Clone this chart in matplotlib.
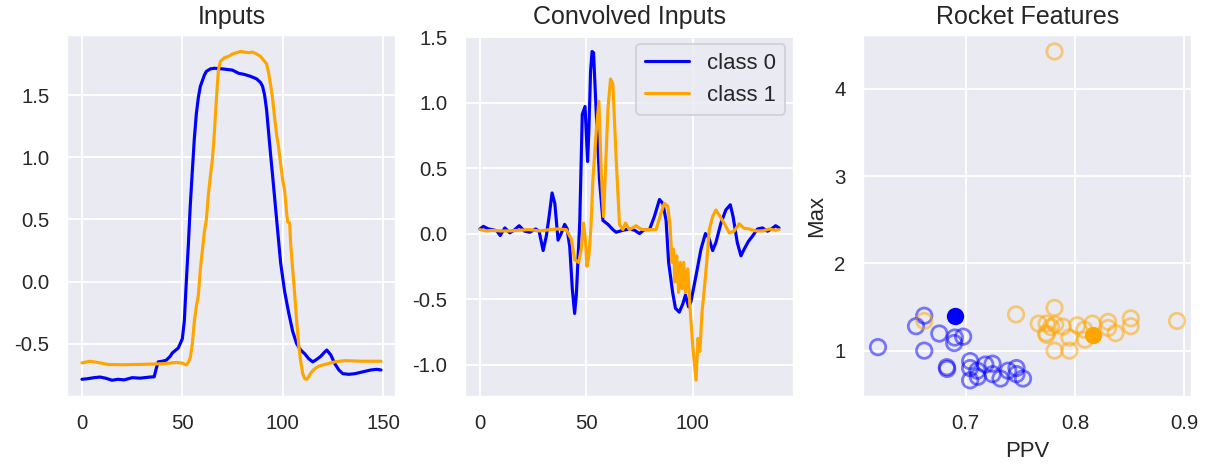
#Libraries
import numpy as np
import matplotlib
matplotlib.use('Agg')
import matplotlib.pyplot as plt
from matplotlib.ticker import MultipleLocator
import seaborn as sns


#Inputs (time index, value)
in0_x = [0, 3, 6, 9, 12, 15, 18, 21, 25, 29, 34, 36, 37, 38, 40, 42, 44, 45, 48, 50,
         51, 52, 53, 54, 55, 56, 57, 58, 59, 61, 62, 64, 66, 70, 75, 78, 81, 84, 87, 89,
         90, 91, 92, 93, 94, 95, 97, 99, 101, 103, 105, 107, 109, 111, 113, 115, 117, 119, 121, 122,
         124, 126, 128, 130, 133, 136, 140, 144, 147, 149]
in0_y = [-0.785, -0.78, -0.772, -0.767, -0.777, -0.793, -0.785, -0.79, -0.772, -0.776,
         -0.767, -0.765, -0.70, -0.645, -0.64, -0.632, -0.60, -0.574, -0.534, -0.46,
         -0.32, 0.0, 0.29, 0.62, 0.89, 1.15, 1.35, 1.48, 1.57, 1.66,
         1.69, 1.71, 1.715, 1.71, 1.70, 1.675, 1.665, 1.65, 1.63, 1.60,
         1.57, 1.50, 1.38, 1.20, 1.02, 0.85, 0.50, 0.15, -0.08, -0.25,
         -0.40, -0.50, -0.55, -0.58, -0.62, -0.645, -0.625, -0.60, -0.565, -0.55,
         -0.59, -0.66, -0.71, -0.74, -0.745, -0.74, -0.725, -0.71, -0.705, -0.71]

in1_x = [0, 4, 8, 13, 20, 30, 40, 47, 50, 52, 53, 54, 55, 56, 57, 58, 59, 60, 61, 62,
         63, 64, 65, 66, 67, 68, 69, 71, 73, 75, 77, 79, 81, 83, 85, 87, 89, 90, 92, 93,
         94, 95, 96, 97, 98, 99, 100, 101, 102, 102.5, 103.5, 104, 105, 106, 107, 108, 109, 110, 111, 112,
         113, 114, 116, 118, 121, 126, 131, 140, 149]
in1_y = [-0.653, -0.64, -0.65, -0.666, -0.668, -0.665, -0.66, -0.65, -0.655, -0.67,
         -0.65, -0.61, -0.50, -0.32, -0.20, -0.11, 0.10, 0.25, 0.40, 0.50,
         0.70, 0.85, 0.98, 1.20, 1.47, 1.70, 1.77, 1.80, 1.81, 1.83,
         1.84, 1.85, 1.845, 1.84, 1.845, 1.83, 1.81, 1.79, 1.75, 1.68,
         1.58, 1.47, 1.32, 1.18, 1.08, 0.95, 0.82, 0.73, 0.55, 0.48,
         0.47, 0.30, 0.10, -0.10, -0.32, -0.51, -0.64, -0.74, -0.78, -0.785,
         -0.765, -0.735, -0.70, -0.68, -0.666, -0.645, -0.635, -0.64, -0.64]

#Convolved inputs
cv0_x = [0, 1.6, 4, 6, 8, 9.5, 11.7, 14, 16.4, 18.4, 21, 23.4, 26.2, 27.8, 29.7, 31.2, 32.5, 33.9, 35.2, 36.7,
         38.3, 39.8, 40.9, 42.2, 43.4, 44.5, 45.3, 46.9, 48.1, 49.4, 50.6, 51.2, 52, 52.7, 53.4, 54.7, 56.2, 57.8, 60.2, 62.5,
         64, 67.2, 70.3, 72.7, 75, 77.3, 79.7, 82, 84.4, 86, 87.5, 88.7, 90.6, 91.9, 93.7, 95.3, 96.6, 98.1, 99.2, 101.6,
         103.9, 106, 107.5, 109.4, 110.9, 113.3, 115.6, 117.7, 119, 121, 122.7, 124.2, 126.2, 128.1, 130.5, 132.8, 135.2, 137.5, 139, 140.6]
cv0_y = [0.035, 0.055, 0.035, 0.03, 0.02, -0.015, 0.043, 0.005, 0.03, 0.06,
         0.018, 0.01, 0.035, 0.018, -0.13, -0.02, 0.13, 0.31, 0.23, -0.05,
         0.005, 0.07, 0.04, -0.10, -0.42, -0.61, -0.47, 0.08, 0.91, 0.97,
         0.55, 0.79, 1.24, 1.39, 1.38, 0.91, 0.41, 0.10, 0.07, 0.03,
         0.01, 0.025, 0.035, 0.025, 0.0, 0.03, 0.03, 0.13, 0.26, 0.23,
         0.10, -0.22, -0.45, -0.57, -0.60, -0.54, -0.47, -0.56, -0.52, -0.32,
         -0.12, 0.0, -0.03, -0.13, -0.07, 0.08, 0.18, 0.22, 0.13, -0.07,
         -0.17, -0.12, -0.06, -0.02, 0.035, 0.043, 0.018, 0.04, 0.06, 0.043]

cv1_x = [0, 3, 6, 10, 14, 18, 23, 28, 32.8, 36.7, 40.6, 43, 44.5, 46.4, 47.6, 48.7, 49.7, 50.3, 51.2, 52.2,
         53.1, 54.7, 55.9, 57, 58.1, 59, 60.2, 61.4, 62.5, 64, 65.6, 67.2, 68.4, 70.3, 73.4, 75, 76.6, 79.7, 82.8, 85.2,
         86.7, 88.3, 89.4, 90.3, 91, 91.7, 92.5, 93.4, 94.2, 95, 95.8, 96.6, 97.7, 98.7, 100, 101.6, 102.5, 103.4, 104.4, 105.5,
         106.6, 107.8, 109.4, 110.9, 112.5, 114.8, 117.2, 119.5, 121.9, 124.2, 126.6, 129.7, 133, 136, 139, 140.6]
cv1_y = [0.03, 0.02, 0.025, 0.02, 0.02, 0.025, 0.03, 0.02, 0.03, 0.035,
         0.03, -0.045, -0.20, -0.22, -0.12, 0.08, -0.07, -0.25, -0.17, 0.055,
         0.41, 0.79, 1.01, 0.48, 0.13, 0.48, 0.96, 1.18, 1.14, 0.58,
         0.07, 0.03, 0.08, 0.03, 0.06, 0.04, 0.03, 0.03, 0.03, 0.16,
         0.23, 0.21, 0.055, -0.22, -0.12, -0.37, -0.17, -0.45, -0.22, -0.42,
         -0.22, -0.45, -0.27, -0.55, -0.85, -1.12, -0.80, -0.90, -0.60, -0.42,
         -0.22, 0.03, 0.13, 0.18, 0.14, 0.08, 0.005, 0.018, 0.075, 0.04,
         0.035, 0.02, 0.02, 0.035, 0.025, 0.03]

#Rocket features (PPV, Max)
rf0_ppv = [0.6197, 0.6545, 0.662, 0.662, 0.6758, 0.6827, 0.683, 0.6894, 0.690, 0.6976, 0.704, 0.704,
           0.704, 0.7106, 0.711, 0.7179, 0.7245, 0.7245, 0.7318, 0.7388, 0.7464, 0.7464, 0.7524]
rf0_max = [1.04, 1.28, 1.40, 1.0, 1.196, 0.81, 0.79, 1.087, 1.15, 1.16, 0.88, 0.80,
           0.66, 0.77, 0.70, 0.84, 0.85, 0.73, 0.68, 0.77, 0.80, 0.73, 0.68]
rf1_ppv = [0.662, 0.746, 0.7812, 0.7812, 0.7667, 0.774, 0.7736, 0.774, 0.7818, 0.7888, 0.7812, 0.7948,
           0.7948, 0.802, 0.8085, 0.809, 0.816, 0.8303, 0.8303, 0.837, 0.851, 0.851, 0.8933, 0.778]
rf1_max = [1.34, 1.415, 4.43, 1.49, 1.31, 1.31, 1.20, 1.18, 1.30, 1.275, 1.0, 1.0,
           1.15, 1.29, 1.24, 1.125, 1.31, 1.33, 1.26, 1.20, 1.37, 1.28, 1.34, 1.27]
sel0 = [0.690, 1.40]
sel1 = [0.8167, 1.18]


sns.set_theme(style='darkgrid')
plt.rcParams['font.family'] = ['Liberation Sans', 'DejaVu Sans']
plt.rcParams['axes.unicode_minus'] = False
plt.rcParams['axes.titlesize'] = 13.5
plt.rcParams['legend.fontsize'] = 12
plt.rcParams['lines.linewidth'] = 1.7

dpi = 133
fig, axes = plt.subplots(1, 3, figsize=(1205 / dpi, 467 / dpi), dpi=dpi)
fig.subplots_adjust(left=0.0556, right=0.9892, bottom=0.1505, top=0.925, wspace=0.21)

#Inputs
ax = axes[0]
ax.plot(in0_x, in0_y, color='blue')
ax.plot(in1_x, in1_y, color='orange')
ax.set_title('Inputs')
ax.xaxis.set_major_locator(MultipleLocator(50))
ax.yaxis.set_major_locator(MultipleLocator(0.5))

#Convolved Inputs
ax = axes[1]
ax.plot(cv0_x, cv0_y, color='blue', label='class 0')
ax.plot(cv1_x, cv1_y, color='orange', label='class 1')
ax.set_title('Convolved Inputs')
ax.legend(loc='upper right', borderaxespad=0.4)
ax.xaxis.set_major_locator(MultipleLocator(50))
ax.yaxis.set_major_locator(MultipleLocator(0.5))

#Rocket Features
ax = axes[2]
ax.scatter(rf0_ppv, rf0_max, s=70, facecolors='none', edgecolors='blue', alpha=0.5, linewidths=1.5)
ax.scatter(rf1_ppv, rf1_max, s=70, facecolors='none', edgecolors='orange', alpha=0.5, linewidths=1.5)
ax.scatter([sel0[0]], [sel0[1]], s=70, color='blue')
ax.scatter([sel1[0]], [sel1[1]], s=70, color='orange')
ax.set_title('Rocket Features')
ax.set_xlabel('PPV')
ax.set_ylabel('Max')
ax.xaxis.set_major_locator(MultipleLocator(0.1))
ax.yaxis.set_major_locator(MultipleLocator(1))

plt.savefig('out.png', dpi=dpi)
